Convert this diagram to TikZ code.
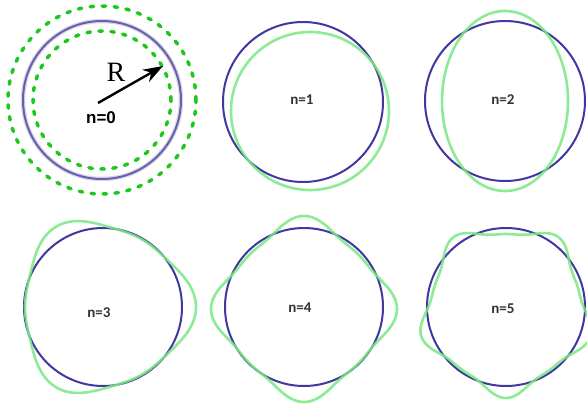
\documentclass[tikz,border=0pt]{standalone}
\usepackage{fontspec}
\setmainfont{Liberation Serif}
\setsansfont{Liberation Sans}
\newfontfamily\lblfont{Carlito}
\usetikzlibrary{arrows.meta}
\definecolor{ringblue}{RGB}{64,56,160}
\definecolor{ringgray}{RGB}{105,95,170}
\definecolor{modegreen}{RGB}{120,232,130}
\definecolor{dotgreen}{RGB}{28,200,28}
\tikzset{
    base ring/.style={draw=ringblue, line width=2pt},
    mode ring/.style={draw=modegreen, line width=2.6pt, opacity=0.85},
    dot ring/.style={draw=dotgreen, line width=3.5pt, dash pattern=on 3.5pt off 8.5pt, line cap=round},
    mode label/.style={font=\lblfont\bfseries\fontsize{15}{15}\selectfont, text=black!80},
    zero label/.style={font=\sffamily\bfseries\fontsize{17}{17}\selectfont}
}

\begin{document}
\begin{tikzpicture}[x=1pt,y=-1pt]
	\fill[white] (0,0) rectangle (587,407);
	\useasboundingbox (0,0) rectangle (587,407);

	\coordinate (c0) at (102,100);
	\coordinate (tail) at (98,103);
	\coordinate (tip) at (163,66);
	\draw[dot ring] (c0) circle[radius=94pt];
	\draw[dot ring] (c0) circle[radius=69pt];
	\draw[draw=ringgray!25, line width=4.5pt] (c0) circle[radius=79pt];
	\draw[draw=ringgray, line width=2pt] (c0) circle[radius=79pt];
	\draw[-{Stealth[length=20pt,width=14pt]}, line width=2.4pt] (tail) -- (tip);
	\node[font=\fontsize{28}{28}\selectfont] (rlbl) at (116,72) {R};
	\node[zero label] (lbl0) at (101,118) {n=0};

	\coordinate (c1) at (303,102);
	\draw[base ring] (c1) circle[radius=80pt];
	\draw[mode ring] (310,111) circle[radius=79pt];
	\node[mode label] (lbl1) at (302,100) {n=1};

	\coordinate (c2) at (505,101);
	\draw[base ring] (c2) circle[radius=80pt];
	\draw[mode ring] (c2) ellipse[x radius=63pt, y radius=90pt];
	\node[mode label] (lbl2) at (503,100) {n=2};

	\coordinate (c3) at (103,307);
	\draw[base ring] (c3) circle[radius=79pt];
	\begin{scope}[shift={(103,307)}]
		\draw[mode ring] plot[domain=0:360, samples=181, variable=\t] (\t:{78+15*((1+cos(3*\t))/2)^2}) -- cycle;
	\end{scope}
	\node[mode label] (lbl3) at (99,313) {n=3};

	\coordinate (c4) at (304,307);
	\draw[base ring] (c4) circle[radius=79pt];
	\begin{scope}[shift={(304,309)}]
		\draw[mode ring] plot[domain=0:360, samples=181, variable=\t] (\t:{77+16*((1+cos(4*\t))/2)^2}) -- cycle;
	\end{scope}
	\node[mode label] (lbl4) at (300,308) {n=4};

	\coordinate (c5) at (506,307);
	\draw[base ring] (c5) circle[radius=79pt];
	\begin{scope}[shift={(506,309)}]
		\draw[mode ring] plot[domain=0:360, samples=181, variable=\t] (\t:{75+14*((1+cos(5*(\t-90)))/2)^2}) -- cycle;
	\end{scope}
	\node[mode label] (lbl5) at (503,309) {n=5};
\end{tikzpicture}
\end{document}
